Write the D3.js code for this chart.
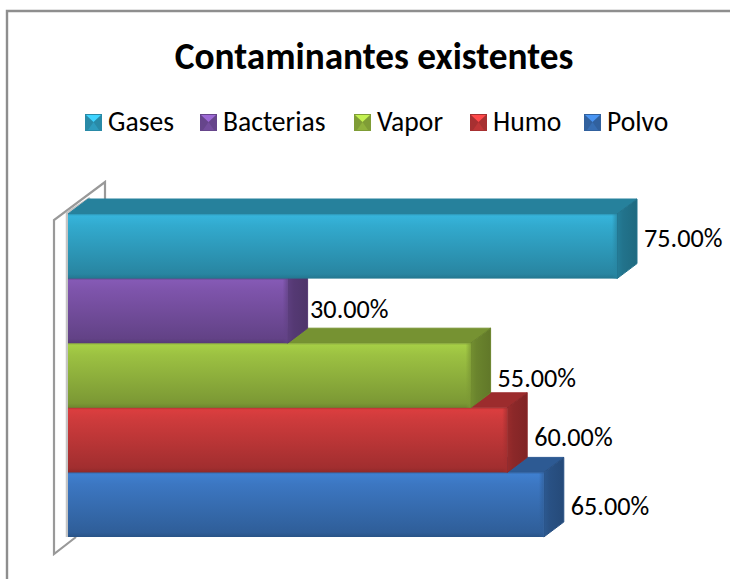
<!DOCTYPE html>
<html><head><meta charset="utf-8">
<script src="https://cdn.jsdelivr.net/npm/d3@7"></script>
<style>html,body{margin:0;padding:0;background:#fff}svg{display:block}</style>
</head><body><svg id="c" width="730" height="579"></svg>
<script>
const categories = ["Polvo","Humo","Vapor","Bacterias","Gases"];
const values = [65,60,55,30,75];
const colors = ["#3a74bd","#c8393a","#98bc40","#7a52a6","#31a5c8"];
const legendOrder = ["Gases","Bacterias","Vapor","Humo","Polvo"];
const legendX = [85,200,354,470,584];
const labelBaselines = [515,446,387,318,247];
const labelGaps = [7,7,7,2.5,7];
const title = "Contaminantes existentes";
const font = "Carlito, Calibri, 'Open Sans', 'Noto Sans', sans-serif";

const svg = d3.select("#c");
const defs = svg.append("defs");
const x = d3.scaleLinear().domain([0,75]).range([68,617]);
const y = d3.scaleBand().domain(categories).range([537,214]).padding(0);
const dx = 20, dy = -15;

const shade=(c,k)=>d3.color(c).darker(k).formatHex();
const bright=(c,k)=>d3.color(c).brighter(k).formatHex();
categories.forEach((c,i)=>{
  const col=colors[i];
  const g=defs.append("linearGradient").attr("id","f"+i).attr("x1",0).attr("y1",0).attr("x2",0).attr("y2",1);
  g.append("stop").attr("offset",0).attr("stop-color",shade(col,0.3));
  g.append("stop").attr("offset",0.03).attr("stop-color",bright(col,0.25));
  g.append("stop").attr("offset",0.18).attr("stop-color",bright(col,0.08));
  g.append("stop").attr("offset",0.93).attr("stop-color",shade(col,0.6));
  g.append("stop").attr("offset",1).attr("stop-color",shade(col,0.95));
  const s=defs.append("linearGradient").attr("id","s"+i).attr("x1",0).attr("y1",0).attr("x2",1).attr("y2",0);
  s.append("stop").attr("offset",0).attr("stop-color",shade(col,0.75));
  s.append("stop").attr("offset",0.3).attr("stop-color",shade(col,1.0));
  s.append("stop").attr("offset",1).attr("stop-color",shade(col,1.25));
  const e=defs.append("linearGradient").attr("id","e"+i).attr("x1",0).attr("y1",0).attr("x2",1).attr("y2",0);
  e.append("stop").attr("offset",0).attr("stop-color",shade(col,0.6)).attr("stop-opacity",0);
  e.append("stop").attr("offset",1).attr("stop-color",shade(col,0.6)).attr("stop-opacity",0.75);
});

// chart frame: only top and left edges are inside the picture
svg.append("path").attr("d",d3.line()([[7,579],[7,11],[730,11]]))
  .attr("fill","none").attr("stroke","#8e8e8e").attr("stroke-width",2.4);

// wall
const wall = svg.append("g");
const xb = x(0), yTop = y.range()[1], yBot = y.range()[0];
const wallPts = [[xb-14,yTop+6],[xb+37,yTop-32],[xb+37,yTop+dy],[xb,yTop],[xb,yBot],[xb+8,yBot],[xb-14,yBot+17]];
wall.append("path").attr("d",d3.line()(wallPts)+"Z").attr("fill","#fff").attr("stroke","none");
wall.append("path").attr("d",d3.line()([[xb+8,yBot],[xb-14,yBot+17],[xb-14,yTop+6],[xb+37,yTop-32],[xb+37,yTop+dy]]))
  .attr("stroke","#999").attr("fill","none").attr("stroke-width",2.2);
wall.append("path").attr("d",d3.line()([[xb-1,yBot],[xb-1,yTop-1],[xb+dx+2,yTop+dy-1]]))
  .attr("stroke","#c4c4c4").attr("stroke-width",2.5).attr("fill","none");

// bars
const bars = svg.append("g");
categories.forEach((c,i)=>{
  const xr=x(values[i]), t=y(c), b=t+y.bandwidth(), col=colors[i];
  const g=bars.append("g");
  g.append("path").attr("d",d3.line()([[x(0),t],[x(0)+dx,t+dy],[xr+dx,t+dy],[xr,t]])+"Z")
    .attr("fill",shade(col,0.7)).attr("stroke",shade(col,0.7)).attr("stroke-width",1).attr("stroke-linejoin","round");
  g.append("path").attr("d",d3.line()([[xr,t],[xr+dx,t+dy],[xr+dx,b+dy],[xr,b]])+"Z")
    .attr("fill","url(#s"+i+")").attr("stroke",shade(col,1.0)).attr("stroke-width",1).attr("stroke-linejoin","round");
  g.append("rect").attr("x",x(0)).attr("y",t).attr("width",xr-x(0)).attr("height",y.bandwidth())
    .attr("fill","url(#f"+i+")");
  g.append("rect").attr("x",xr-5).attr("y",t).attr("width",5).attr("height",y.bandwidth())
    .attr("fill","url(#e"+i+")");
});

// labels
categories.forEach((c,i)=>{
  svg.append("text").attr("x",x(values[i])+dx+labelGaps[i]).attr("y",labelBaselines[i]).attr("font-family",font)
   .attr("font-size",26.2).attr("fill","#000").text(values[i].toFixed(2)+"%");
});

// title
svg.append("text").attr("x",374).attr("y",69).attr("text-anchor","middle").attr("font-family",font)
  .attr("font-weight","bold").attr("font-size",37.3).attr("fill","#000").text(title);

// legend
legendOrder.forEach((c,n)=>{
  const i=categories.indexOf(c), col=colors[i], lx=legendX[n], ly=114;
  const g=svg.append("g");
  g.append("rect").attr("x",lx).attr("y",ly).attr("width",17).attr("height",17).attr("fill",shade(col,0.5));
  g.append("path").attr("d",d3.line()([[lx+1,ly+1],[lx+16,ly+1],[lx+8.5,ly+8]])+"Z").attr("fill",bright(col,0.7));
  g.append("path").attr("d",d3.line()([[lx+3,ly+16],[lx+14,ly+16],[lx+8.5,ly+8]])+"Z").attr("fill",shade(col,0.15));
  svg.append("text").attr("x",lx+23).attr("y",131).attr("font-family",font).attr("font-size",27.6).attr("fill","#000").text(c);
});
</script></body></html>
